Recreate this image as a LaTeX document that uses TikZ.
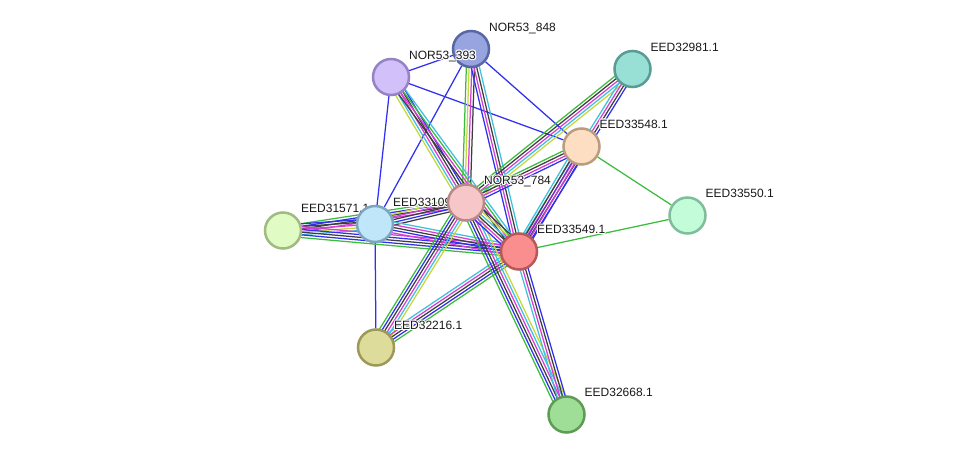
\documentclass[tikz,border=0pt]{standalone}
\usepackage{fontspec}
\setmainfont{Liberation Sans}
\usetikzlibrary{calc,backgrounds}
\definecolor{cg}{RGB}{60,188,60}
\definecolor{cb}{RGB}{48,48,238}
\definecolor{ck}{RGB}{62,62,62}
\definecolor{cm}{RGB}{212,62,212}
\definecolor{cc}{RGB}{62,192,222}
\definecolor{cy}{RGB}{196,216,62}
\definecolor{cp}{RGB}{118,48,200}
\tikzset{
  prot/.style={circle, minimum size=36pt, inner sep=0pt, line width=2.5pt},
  lab/.style={anchor=base west, inner sep=0pt, font=\fontsize{12}{14}\selectfont, text=black!90},
  halo/.style={lab, text=white},
  edge/.style={line width=1.25pt},
}
\newcommand\bundle[4]{%
  \foreach \c [count=\i] in {#4} {
    \pgfmathsetmacro\off{(\i-(#3+1)/2)*2.7}
    \draw[edge,draw=\c] ($(#1)!\off pt!90:(#2)$) -- ($(#2)!\off pt!-90:(#1)$);
  }%
}
% label with white halo: #1 label name, #2 protein node, #3 text
\newcommand\plab[3]{%
  \foreach \hx/\hy in {1.1/0,-1.1/0,0/1.1,0/-1.1,0.8/0.8,0.8/-0.8,-0.8/0.8,-0.8/-0.8}
    \node[halo] at ($(#2)+(18,-17.7)+(\hx,\hy)$) {#3};
  \node[lab] (#1) at ($(#2)+(18,-17.7)$) {#3};
}
\begin{document}
\begin{tikzpicture}[x=1pt,y=-1pt]
\useasboundingbox (0,0) rectangle (975,460);
% nodes and labels
\node[prot, fill={rgb,255:red,152;green,164;blue,224}, draw={rgb,255:red,88;green,104;blue,164}] (n848) at (471,49) {};
\node[prot, fill={rgb,255:red,210;green,192;blue,250}, draw={rgb,255:red,150;green,130;blue,196}] (n393) at (391,77) {};
\plab{l393}{n393}{NOR53\_393}
\plab{l848}{n848}{NOR53\_848}
\node[prot, fill={rgb,255:red,152;green,224;blue,214}, draw={rgb,255:red,88;green,156;blue,148}] (n32981) at (632.5,69) {};
\plab{l32981}{n32981}{EED32981.1}
\node[prot, fill={rgb,255:red,253;green,222;blue,194}, draw={rgb,255:red,186;green,156;blue,128}] (n33548) at (581.5,146.5) {};
\plab{l33548}{n33548}{EED33548.1}
\node[prot, fill={rgb,255:red,194;green,252;blue,216}, draw={rgb,255:red,126;green,190;blue,154}] (n33550) at (687.5,215.5) {};
\plab{l33550}{n33550}{EED33550.1}
\node[prot, fill={rgb,255:red,224;green,252;blue,196}, draw={rgb,255:red,160;green,186;blue,128}] (n31571) at (283,230.5) {};
\plab{l31571}{n31571}{EED31571.1}
\node[prot, fill={rgb,255:red,192;green,230;blue,250}, draw={rgb,255:red,126;green,164;blue,192}] (n33109) at (375,224) {};
\plab{l33109}{n33109}{EED33109.1}
\node[prot, fill={rgb,255:red,246;green,198;blue,200}, draw={rgb,255:red,184;green,136;blue,138}] (n784) at (466,202.5) {};
\plab{l784}{n784}{NOR53\_784}
\node[prot, fill={rgb,255:red,222;green,220;blue,154}, draw={rgb,255:red,156;green,154;blue,88}] (n32216) at (376,347.5) {};
\plab{l32216}{n32216}{EED32216.1}
\node[prot, fill={rgb,255:red,158;green,222;blue,150}, draw={rgb,255:red,94;green,156;blue,86}] (n32668) at (566.5,414.5) {};
\plab{l32668}{n32668}{EED32668.1}
\node[prot, fill={rgb,255:red,250;green,142;blue,142}, draw={rgb,255:red,184;green,88;blue,88}] (n33549) at (519,251.5) {};
\plab{l33549}{n33549}{EED33549.1}
\begin{pgfonlayer}{background}
\fill[white] (0,0) rectangle (975,460);
% single edges
\draw[edge,cb] (n848) -- (n393);
\draw[edge,cb] (n848) -- (n33109);
\draw[edge,cb] (n848) -- (n33548);
\draw[edge,cb] (n393) -- (n33548);
\draw[edge,cb] (n393) -- (n33109);
\draw[edge,cb] (n33109) -- (n32216);
\draw[edge,cg] (n33548) -- (n33550);
\draw[edge,cg] (n33549) -- (n33550);
% bundles
\bundle{n848}{n784}{4}{cg,cy,cm,ck}
\bundle{n848}{n33549}{4}{cb,cm,ck,cc}
\bundle{n393}{n784}{5}{cy,cc,cm,ck,cb}
\bundle{n393}{n33549}{4}{ck,cm,cg,cc}
\bundle{n32981}{n784}{5}{cg,ck,cm,cc,cy}
\bundle{n32981}{n33549}{4}{cc,cm,ck,cb}
\bundle{n33548}{n784}{4}{cg,ck,cm,cb}
\bundle{n33548}{n33549}{5}{cc,ck,cp,cm,cb}
\bundle{n31571}{n784}{4}{cm,ck,cb,cg}
\bundle{n31571}{n33109}{5}{cc,cy,cm,ck,cb}
\bundle{n31571}{n33549}{5}{cg,cb,ck,cb,cm}
\bundle{n33109}{n784}{5}{ck,cb,ck,cm,cy}
\bundle{n33109}{n33549}{5}{cm,cb,ck,cm,cc}
\bundle{n32216}{n784}{6}{cy,cc,cm,ck,cb,cg}
\bundle{n32216}{n33549}{5}{cg,cb,ck,cm,cc}
\bundle{n32668}{n784}{6}{cy,cc,cm,ck,cb,cg}
\bundle{n32668}{n33549}{4}{cb,ck,cm,cc}
\bundle{n784}{n33549}{6}{cb,cm,ck,cc,cy,ck}
\end{pgfonlayer}
\end{tikzpicture}
\end{document}
